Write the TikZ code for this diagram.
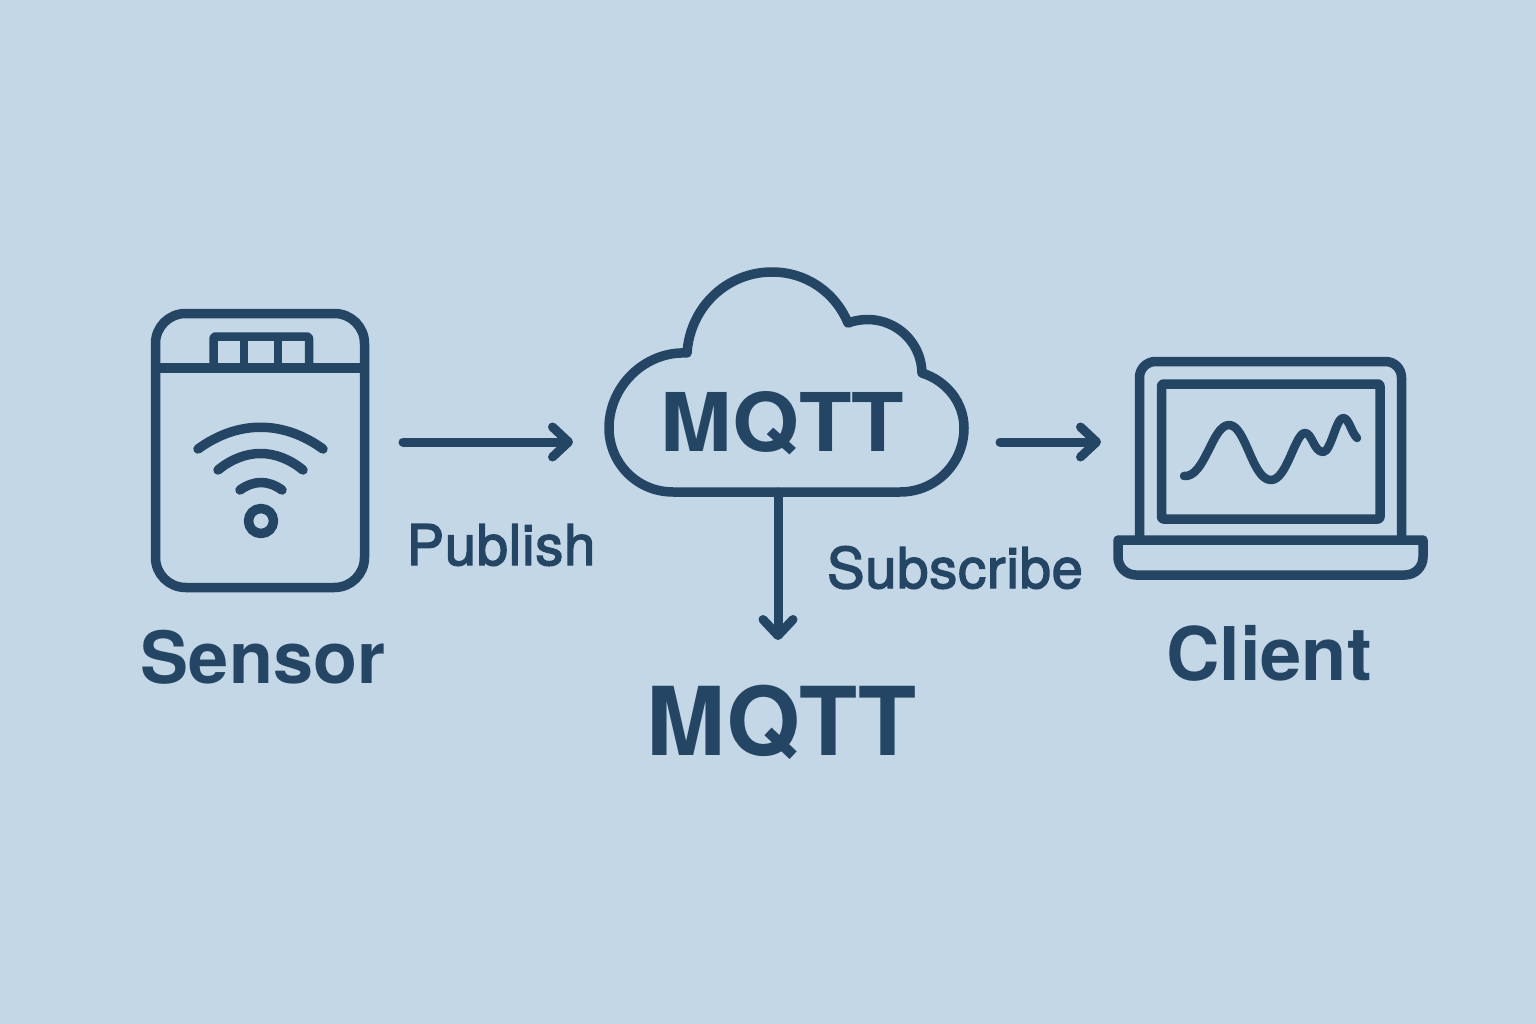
\documentclass[tikz,border=0pt]{standalone}
\usepackage{fontspec}
\setmainfont{TeX Gyre Heros}
\newfontfamily\medfont[FakeBold=2.5,LetterSpace=1.5]{TeX Gyre Heros}
\newfontfamily\widefont[FakeStretch=1.06]{TeX Gyre Heros}
\usetikzlibrary{arrows.meta}
\definecolor{ink}{HTML}{244664}
\definecolor{paper}{HTML}{C4D7E6}
\tikzset{
  line/.style={draw=ink,line width=#1,line cap=round,line join=round},
  line/.default=9.5pt,
  flow/.style={line=9pt,-{Straight Barb[length=16pt,width=30pt,round]}},
  label/.style={text=ink,inner sep=0pt,anchor=base},
  big/.style={label,font=\bfseries\fontsize{72}{72}\selectfont},
  small/.style={label,font=\medfont\fontsize{56}{56}\selectfont},
}
\begin{document}
\begin{tikzpicture}[x=1pt,y=-1pt]
\useasboundingbox (0,0) rectangle (1536,1024);
\fill[paper] (0,0) rectangle (1536,1024);

% Sensor
\draw[line,rounded corners=30pt] (155.5,313.5) rectangle (364.5,587.5);
\coordinate (sensorL) at (155.5,368); \coordinate (sensorR) at (364.5,368);
\draw[line,line cap=butt] (sensorL) -- (sensorR);
\draw[line=8.5pt,line cap=butt,rounded corners=2pt] (213.5,368) -- (213.5,336.5) -- (309,336.5) -- (309,368);
\draw[line=8.5pt,line cap=butt] (244,336.5) -- (244,368);
\draw[line=8.5pt,line cap=butt] (278,336.5) -- (278,368);
\draw[line] (198,449) .. controls (238,420) and (283,420) .. (323,449);
\draw[line] (218,470) .. controls (245,448) and (276,448) .. (303,470);
\draw[line] (240,490) .. controls (254,480) and (268,480) .. (282,490);
\draw[line] (261,521) circle (12.5pt);

% Cloud
\draw[line] (673,492) .. controls (637,492) and (609,463) .. (609,428)
  .. controls (609,386) and (645,351) .. (687,353)
  .. controls (690,307) and (727,272) .. (772,272)
  .. controls (806,272) and (835,292) .. (848,323)
  .. controls (884,310) and (921,335) .. (922,373)
  .. controls (947,381) and (964,403) .. (964,428)
  .. controls (964,463) and (936,492) .. (900,492) -- cycle;
\coordinate (cloudbottom) at (778,492);
\node[label,font=\widefont\bfseries\fontsize{81}{81}\selectfont] (cloudtext) at (782.5,451) {MQTT};

% Laptop
\draw[line,line cap=butt,rounded corners=16pt] (1139.5,540) -- (1139.5,361.5) -- (1401.5,361.5) -- (1401.5,540);
\draw[line,rounded corners=2pt] (1161.5,384) rectangle (1380,519);
\draw[line] (1118,540) -- (1423,540) -- (1423,557)
  .. controls (1423,567) and (1415,575) .. (1405,575) -- (1136,575)
  .. controls (1126,575) and (1118,567) .. (1118,557) -- cycle;
\draw[line=8.5pt] (1184,476) .. controls (1205,478) and (1212,425) .. (1229,425)
  .. controls (1246,425) and (1252,480) .. (1271,480)
  .. controls (1287,480) and (1295,433) .. (1305,433)
  .. controls (1312,433) and (1314,452) .. (1323,452)
  .. controls (1331,452) and (1336,418) .. (1343,418)
  .. controls (1349,418) and (1351,432) .. (1357,438);

% Arrows
\coordinate (pubA) at (403,442); \coordinate (pubB) at (573,442);
\coordinate (subA) at (1000,442); \coordinate (subB) at (1101,442);
\coordinate (downB) at (778,640);
\draw[flow] (pubA) -- (pubB);
\draw[flow] (subA) -- (subB);
\draw[flow] (cloudbottom) -- (downB);

% Labels
\node[big] (sensor) at (263,683) {Sensor};
\node[big,font=\bfseries\fontsize{74}{74}\selectfont] (client) at (1269,680) {Client};
\node[big,font=\bfseries\fontsize{95}{95}\selectfont] (mqtt) at (781.5,755) {MQTT};
\node[small] (publish) at (501,565) {Publish};
\node[small] (subscribe) at (955,588) {Subscribe};
\end{tikzpicture}
\end{document}
